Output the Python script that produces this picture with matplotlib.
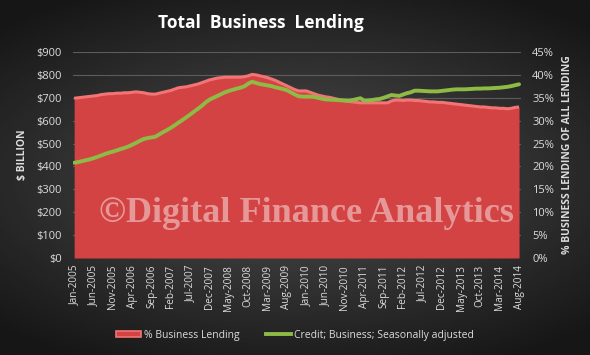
import matplotlib

matplotlib.use("Agg")

import matplotlib.pyplot as plt
import numpy as np
import pandas as pd
from matplotlib.lines import Line2D
from matplotlib.patches import Patch

# monthly, Jan-2005 .. Aug-2014
months = pd.date_range("2005-01-01", "2014-08-01", freq="MS")

# % business lending of all lending (right axis)
pct_business = [
    34.9, 35.0, 35.1, 35.2, 35.3, 35.4, 35.5, 35.7, 35.8, 35.9, 35.9, 36.0,
    36.0, 36.1, 36.1, 36.2, 36.3, 36.2, 36.1, 35.9, 35.8, 35.8, 36.0, 36.2,
    36.4, 36.6, 36.9, 37.2, 37.3, 37.4, 37.6, 37.8, 38.0, 38.3, 38.6, 38.9,
    39.1, 39.3, 39.4, 39.5, 39.5, 39.5, 39.5, 39.5, 39.6, 39.8, 40.1, 40.0,
    39.8, 39.6, 39.4, 39.1, 38.8, 38.4, 38.0, 37.6, 37.2, 36.8, 36.5, 36.5,
    36.5, 36.2, 35.9, 35.6, 35.4, 35.2, 35.1, 34.9, 34.7, 34.5, 34.3, 34.2,
    34.1, 34.0, 33.9, 33.9, 33.9, 33.9, 33.9, 33.9, 33.9, 33.9, 34.3, 34.5,
    34.5, 34.4, 34.5, 34.5, 34.4, 34.4, 34.3, 34.2, 34.1, 34.1, 34.0, 34.0,
    33.9, 33.8, 33.7, 33.6, 33.5, 33.4, 33.3, 33.2, 33.1, 33.0, 33.0, 32.9,
    32.8, 32.8, 32.7, 32.7, 32.6, 32.7, 32.9, 33.0,
]

# credit; business; seasonally adjusted ($ billion, left axis)
credit_business = [
    416, 419, 423, 427, 431, 436, 442, 448, 455, 460, 465, 470,
    476, 481, 487, 495, 503, 512, 520, 524, 527, 530, 540, 550,
    559, 569, 580, 592, 603, 615, 627, 640, 652, 665, 680, 692,
    700, 708, 716, 724, 730, 735, 740, 744, 750, 762, 770, 765,
    760, 757, 754, 751, 746, 742, 738, 733, 724, 715, 707, 705,
    705, 705, 704, 700, 696, 693, 692, 691, 690, 689, 688, 687,
    690, 694, 698, 687, 688, 690, 693, 695, 700, 706, 712, 710,
    708, 714, 720, 724, 731, 731, 730, 729, 728, 728, 728, 730,
    732, 734, 736, 737, 737, 737, 738, 739, 740, 740, 741, 741,
    742, 743, 744, 746, 748, 751, 755, 759,
]

left_ticks = list(range(0, 1000, 100))
right_ticks = list(range(0, 50, 5))

TEXT = "#dcdcdc"
RED = "#d34343"
RED_EDGE = "#f27474"
GREEN = "#8dbb45"

fig = plt.figure(figsize=(5.9, 3.55), dpi=100)

# dark radial background
bg = fig.add_axes([0, 0, 1, 1], zorder=-10)
yy, xx = np.mgrid[-1:1:200j, -1:1:330j]
r = np.sqrt((xx * 0.9) ** 2 + (yy * 1.1) ** 2)
bg.imshow(0.31 - 0.17 * np.clip(r, 0, 1.3), cmap="gray", vmin=0, vmax=1,
          aspect="auto", extent=[0, 1, 0, 1])
bg.axis("off")

ax = fig.add_axes([0.1237, 0.2732, 0.7593, 0.5803])
ax.patch.set_visible(False)
ax2 = ax.twinx()
x = np.arange(len(months))

# red area on the percent scale (right side)
ax.fill_between(x, pct_business, 0, color=RED, lw=0, zorder=2)
ax.plot(x, pct_business, color=RED_EDGE, lw=2.2, zorder=3, solid_capstyle="butt")
ax.set_ylim(0, 45)
ax.yaxis.tick_right()
ax.yaxis.set_label_position("right")
ax.set_yticks(right_ticks)
ax.set_yticklabels([f"{t}%" for t in right_ticks])
ax.set_ylabel("% BUSINESS LENDING OF ALL LENDING", color=TEXT, fontsize=7.5,
              fontweight="bold", family="Open Sans", labelpad=6)
ax.grid(axis="y", color="#5c5c5c", lw=0.8)
ax.set_axisbelow(True)

# green line on the dollar scale (left side)
ax2.plot(x, credit_business, color=GREEN, lw=2.8, zorder=4, solid_capstyle="round")
ax2.set_ylim(0, 900)
ax2.yaxis.tick_left()
ax2.yaxis.set_label_position("left")
ax2.set_yticks(left_ticks)
ax2.set_yticklabels([f"${t}" for t in left_ticks])
ax2.set_ylabel("$ BILLION", color=TEXT, fontsize=7.5, fontweight="bold",
               family="Open Sans", labelpad=6)

tick_idx = x[::5]
ax.set_xticks(tick_idx)
ax.set_xticklabels([months[i].strftime("%b-%Y") for i in tick_idx], rotation=90)
ax.set_xlim(-0.3, 115.5)

for a in (ax, ax2):
    for s in a.spines.values():
        s.set_visible(False)
    a.tick_params(length=0, colors=TEXT, labelsize=8)
    for lab in a.get_xticklabels() + a.get_yticklabels():
        lab.set_family("Open Sans")
ax.tick_params(axis="x", labelsize=7.2, pad=5)
ax.tick_params(axis="y", pad=8)
ax2.tick_params(axis="y", pad=8)

fig.text(0.442, 0.935, "Total  Business  Lending", ha="center", va="center",
         color="white", fontsize=12.5, fontweight="bold", family="Open Sans")

fig.text(0.52, 0.40, "\u00a9Digital Finance Analytics", ha="center", va="center",
         color="white", alpha=0.45, fontsize=26, fontweight="bold",
         family="Liberation Serif", zorder=10)

handles = [
    Patch(facecolor=RED, edgecolor=RED_EDGE, lw=1.2, label="% Business Lending"),
    Line2D([0], [0], color=GREEN, lw=2.8, label="Credit; Business; Seasonally adjusted"),
]
leg = fig.legend(handles=handles, loc="center", bbox_to_anchor=(0.5, 0.056), ncol=2,
                 frameon=False, fontsize=7.5, handlelength=2.4, handleheight=0.6,
                 columnspacing=2.5, handletextpad=0.3)
for t in leg.get_texts():
    t.set_color(TEXT)
    t.set_family("Open Sans")

fig.savefig("out.png", dpi=100)
